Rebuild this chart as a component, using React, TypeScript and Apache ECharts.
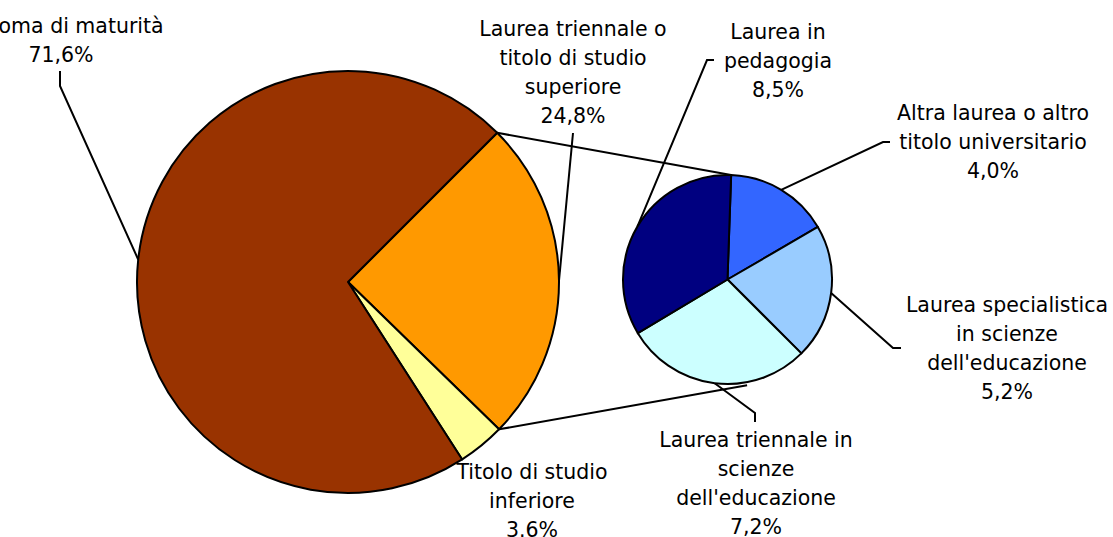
import React, { useEffect, useRef } from 'react';
import * as echarts from 'echarts';

// ---- Data ----
const mainNames = [
  'Laurea triennale o titolo di studio superiore',
  'Titolo di studio inferiore',
  'Diploma di maturità',
];
const mainValues = [24.8, 3.6, 71.6];
const mainValueLabels = ['24,8%', '3.6%', '71,6%'];
const mainLabelTexts = [
  'Laurea triennale o\ntitolo di studio\nsuperiore',
  'Titolo di studio\ninferiore',
  'Diploma di maturità',
];
const mainColors = ['#FF9900', '#FFFF99', '#993300'];

const subNames = [
  'Altra laurea o altro titolo universitario',
  "Laurea specialistica in scienze dell'educazione",
  "Laurea triennale in scienze dell'educazione",
  'Laurea in pedagogia',
];
const subValues = [4.0, 5.2, 7.2, 8.5];
const subValueLabels = ['4,0%', '5,2%', '7,2%', '8,5%'];
const subLabelTexts = [
  'Altra laurea o altro\ntitolo universitario',
  'Laurea specialistica\nin scienze\ndell\'educazione',
  'Laurea triennale in\nscienze\ndell\'educazione',
  'Laurea in\npedagogia',
];
const subColors = ['#3366FF', '#99CCFF', '#CCFFFF', '#000080'];

// ---- Layout ----
const MAIN_C = [348, 282];
const MAIN_R = 211;
const MAIN_START = 45;
const SUB_C = [727.5, 279.5];
const SUB_R = 104.5;
const SUB_START = 88;
const SUB_LOWER_CONNECT_ANGLE = -79.5;

const FONT = 'DejaVu Sans';
const FONT_SIZE = 20.5;
const LINE_H = 29;
const LW = 2;

type Anchor = { x: number; y: number; line: number[][] | null };
const mainAnchors: Anchor[] = [
  { x: 573, y: 14, line: [[573, 133]] },
  { x: 532, y: 457, line: null },
  { x: 61, y: 11, line: [[60, 86], [60, 71]] },
];
const subAnchors: Anchor[] = [
  { x: 993, y: 98, line: [[883, 142], [890, 142]] },
  { x: 1007, y: 290, line: [[893, 348], [901, 348]] },
  { x: 756, y: 425, line: [[755, 413], [755, 422]] },
  { x: 778, y: 17, line: [[707, 60], [714, 60]] },
];

function polar(c: number[], r: number, deg: number) {
  const a = (deg * Math.PI) / 180;
  return [c[0] + r * Math.cos(a), c[1] - r * Math.sin(a)];
}
function midAngle(values: number[], start: number, i: number) {
  const total = values.reduce((s, v) => s + v, 0);
  let acc = 0;
  for (let k = 0; k < i; k++) acc += values[k];
  return start - ((acc + values[i] / 2) / total) * 360;
}
function endAngle(values: number[], start: number, i: number) {
  const total = values.reduce((s, v) => s + v, 0);
  let acc = 0;
  for (let k = 0; k <= i; k++) acc += values[k];
  return start - (acc / total) * 360;
}

export default function App() {
  const ref = useRef<HTMLDivElement>(null);
  useEffect(() => {
    if (!ref.current) return;
    const chart = echarts.init(ref.current, null, { renderer: 'svg' });

    const makeLayout = (values: number[], start: number, c: number[], r: number, anchors: Anchor[]) =>
      (params: any) => {
        const i = params.dataIndex;
        const a = anchors[i];
        const res: any = { x: a.x, y: a.y, align: 'center', verticalAlign: 'top' };
        if (a.line) {
          const p0 = polar(c, r, midAngle(values, start, i));
          res.labelLinePoints = [p0, ...a.line];
        }
        return res;
      };

    const labelStyle = {
      show: true,
      position: 'outside',
      color: '#000',
      fontFamily: FONT,
      fontSize: FONT_SIZE,
      lineHeight: LINE_H,
      align: 'center',
    };

    const upperMain = polar(MAIN_C, MAIN_R, MAIN_START);
    const lowerMain = polar(MAIN_C, MAIN_R, endAngle(mainValues, MAIN_START, 0));
    const upperSub = polar(SUB_C, SUB_R, SUB_START);
    const lowerSub = polar(SUB_C, SUB_R + 3, SUB_LOWER_CONNECT_ANGLE);

    chart.setOption({
      animation: false,
      backgroundColor: '#fff',
      graphic: [
        {
          type: 'line',
          z: 10,
          shape: { x1: upperMain[0], y1: upperMain[1], x2: upperSub[0], y2: upperSub[1] },
          style: { stroke: '#000', lineWidth: LW },
        },
        {
          type: 'line',
          z: 10,
          shape: { x1: lowerMain[0], y1: lowerMain[1], x2: lowerSub[0], y2: lowerSub[1] },
          style: { stroke: '#000', lineWidth: LW },
        },
      ],
      series: [
        {
          type: 'pie',
          center: MAIN_C,
          radius: [0, MAIN_R],
          startAngle: MAIN_START,
          clockwise: true,
          avoidLabelOverlap: false,
          silent: true,
          itemStyle: { borderColor: '#000', borderWidth: LW },
          label: {
            ...labelStyle,
            formatter: (p: any) => mainLabelTexts[p.dataIndex] + '\n' + mainValueLabels[p.dataIndex],
          },
          labelLine: { show: true, lineStyle: { color: '#000', width: LW }, smooth: false },
          labelLayout: makeLayout(mainValues, MAIN_START, MAIN_C, MAIN_R, mainAnchors),
          data: mainNames.map((n, i) => ({
            name: n,
            value: mainValues[i],
            itemStyle: { color: mainColors[i] },
            labelLine: { show: mainAnchors[i].line !== null },
          })),
        },
        {
          type: 'pie',
          center: SUB_C,
          radius: [0, SUB_R],
          startAngle: SUB_START,
          clockwise: true,
          avoidLabelOverlap: false,
          silent: true,
          itemStyle: { borderColor: '#000', borderWidth: LW },
          label: {
            ...labelStyle,
            formatter: (p: any) => subLabelTexts[p.dataIndex] + '\n' + subValueLabels[p.dataIndex],
          },
          labelLine: { show: true, lineStyle: { color: '#000', width: LW }, smooth: false },
          labelLayout: makeLayout(subValues, SUB_START, SUB_C, SUB_R, subAnchors),
          data: subNames.map((n, i) => ({
            name: n,
            value: subValues[i],
            itemStyle: { color: subColors[i] },
            labelLine: { show: subAnchors[i].line !== null },
          })),
        },
      ],
    });
    return () => chart.dispose();
  }, []);

  return (
    <div
      ref={ref}
      style={{ position: 'fixed', left: 0, top: 0, width: 1113, height: 537, background: '#fff' }}
    />
  );
}
